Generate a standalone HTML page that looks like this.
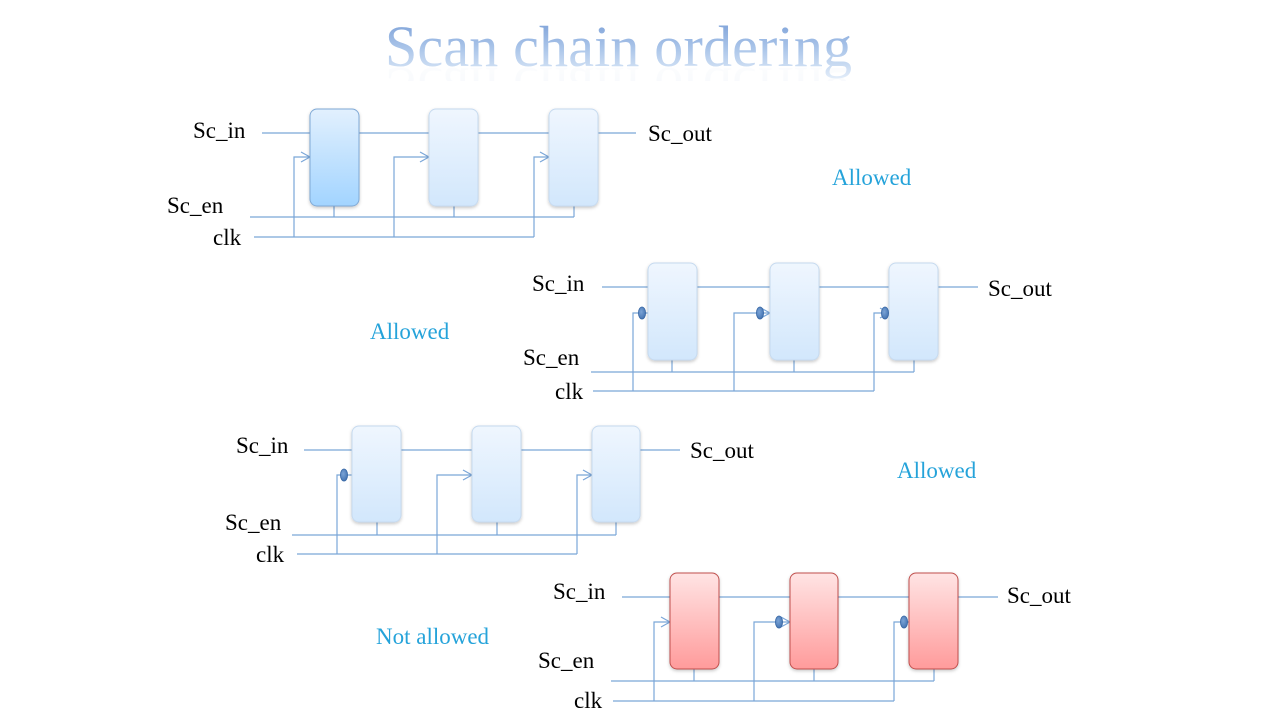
<!DOCTYPE html>
<html>
<head>
<meta charset="utf-8">
<style>
  html,body{margin:0;padding:0;background:#fff;}
  body{width:1280px;height:720px;overflow:hidden;}
  svg{display:block;}
  .lbl{font-family:"Liberation Serif",serif;font-size:23px;fill:#000;}
  .ok{font-family:"Liberation Serif",serif;font-size:23px;fill:#25a3da;}
  .w{stroke:#7aa6d8;stroke-width:1.2;fill:none;}
</style>
</head>
<body>
<svg width="1280" height="720" viewBox="0 0 1280 720" xmlns="http://www.w3.org/2000/svg">
  <defs>
    <linearGradient id="tg" x1="0" y1="0" x2="0" y2="1">
      <stop offset="0" stop-color="#7399d4"/>
      <stop offset="0.55" stop-color="#adc7ea"/>
      <stop offset="1" stop-color="#e3edf9"/>
    </linearGradient>
    <linearGradient id="tr" x1="0" y1="0" x2="0" y2="1">
      <stop offset="0" stop-color="#d5e2f4"/>
      <stop offset="1" stop-color="#ffffff"/>
    </linearGradient>
    <clipPath id="refclip">
      <rect x="370" y="67" width="500" height="14"/>
    </clipPath>
    <linearGradient id="bd" x1="0" y1="0" x2="0" y2="1">
      <stop offset="0" stop-color="#e2f0fe"/>
      <stop offset="1" stop-color="#a2d4ff"/>
    </linearGradient>
    <linearGradient id="bl" x1="0" y1="0" x2="0" y2="1">
      <stop offset="0" stop-color="#eff6fe"/>
      <stop offset="1" stop-color="#d2e7fc"/>
    </linearGradient>
    <linearGradient id="rd" x1="0" y1="0" x2="0" y2="1">
      <stop offset="0" stop-color="#ffe4e4"/>
      <stop offset="1" stop-color="#ff9b9b"/>
    </linearGradient>
    <radialGradient id="bub" cx="0.4" cy="0.4" r="0.7">
      <stop offset="0" stop-color="#7aa3d6"/>
      <stop offset="1" stop-color="#3f6fae"/>
    </radialGradient>
    <filter id="sh" x="-20%" y="-20%" width="140%" height="140%">
      <feDropShadow dx="0" dy="1.5" stdDeviation="1.5" flood-color="#000" flood-opacity="0.22"/>
    </filter>
  </defs>

  <!-- Title -->
  <g clip-path="url(#refclip)" opacity="0.35">
    <g transform="translate(0,134) scale(1,-1)">
      <text x="385" y="66" textLength="467" lengthAdjust="spacing" font-family="Liberation Serif, serif" font-size="58" fill="url(#tr)">Scan chain ordering</text>
    </g>
  </g>
  <text x="385" y="66" textLength="467" lengthAdjust="spacing" font-family="Liberation Serif, serif" font-size="58" fill="url(#tg)">Scan chain ordering</text>

  <!-- ================= Diagram 1 ================= -->
  <g class="w">
    <line x1="262" y1="133" x2="636" y2="133"/>
    <polyline points="294,237 294,157 310,157"/>
    <polyline points="394,237 394,157 429,157"/>
    <polyline points="534,237 534,157 549,157"/>
    <polyline points="301,152 310,157 301,162"/>
    <polyline points="420,152 429,157 420,162"/>
    <polyline points="540,152 549,157 540,162"/>
    <line x1="250" y1="217" x2="574" y2="217"/>
    <line x1="334" y1="206" x2="334" y2="217"/>
    <line x1="454" y1="206" x2="454" y2="217"/>
    <line x1="574" y1="206" x2="574" y2="217"/>
    <line x1="254" y1="237" x2="534" y2="237"/>
  </g>
  <rect x="310" y="109" width="49" height="97" rx="7" fill="url(#bd)" stroke="#7fa9d6" stroke-width="1" filter="url(#sh)"/>
  <rect x="429" y="109" width="49" height="97" rx="7" fill="url(#bl)" stroke="#c6daef" stroke-width="1" filter="url(#sh)"/>
  <rect x="549" y="109" width="49" height="97" rx="7" fill="url(#bl)" stroke="#c6daef" stroke-width="1" filter="url(#sh)"/>
  <text class="lbl" x="193" y="138">Sc_in</text>
  <text class="lbl" x="167" y="213">Sc_en</text>
  <text class="lbl" x="213" y="245">clk</text>
  <text class="lbl" x="648" y="141">Sc_out</text>
  <text class="ok" x="832" y="185">Allowed</text>

  <!-- ================= Diagram 2 ================= -->
  <g class="w">
    <line x1="602" y1="287" x2="978" y2="287"/>
    <polyline points="633,391 633,313 648,313"/>
    <polyline points="734,391 734,313 770,313"/>
    <polyline points="874,391 874,313 889,313"/>
    <polyline points="761,308 770,313 761,318"/>
    <polyline points="880,308 889,313 880,318"/>
    <line x1="591" y1="372" x2="914" y2="372"/>
    <line x1="672" y1="360" x2="672" y2="372"/>
    <line x1="794" y1="360" x2="794" y2="372"/>
    <line x1="914" y1="360" x2="914" y2="372"/>
    <line x1="593" y1="391" x2="874" y2="391"/>
  </g>
  <rect x="648" y="263" width="49" height="97" rx="7" fill="url(#bl)" stroke="#c6daef" stroke-width="1" filter="url(#sh)"/>
  <rect x="770" y="263" width="49" height="97" rx="7" fill="url(#bl)" stroke="#c6daef" stroke-width="1" filter="url(#sh)"/>
  <rect x="889" y="263" width="49" height="97" rx="7" fill="url(#bl)" stroke="#c6daef" stroke-width="1" filter="url(#sh)"/>
  <ellipse cx="642" cy="313" rx="3.6" ry="6" fill="url(#bub)" stroke="#3a69a6" stroke-width="0.8"/>
  <ellipse cx="760" cy="313" rx="3.6" ry="6" fill="url(#bub)" stroke="#3a69a6" stroke-width="0.8"/>
  <ellipse cx="885" cy="313" rx="3.6" ry="6" fill="url(#bub)" stroke="#3a69a6" stroke-width="0.8"/>
  <text class="lbl" x="532" y="291">Sc_in</text>
  <text class="lbl" x="523" y="365">Sc_en</text>
  <text class="lbl" x="555" y="399">clk</text>
  <text class="lbl" x="988" y="296">Sc_out</text>
  <text class="ok" x="370" y="339">Allowed</text>

  <!-- ================= Diagram 3 ================= -->
  <g class="w">
    <line x1="304" y1="450" x2="680" y2="450"/>
    <polyline points="337,554 337,475 352,475"/>
    <polyline points="437,554 437,475 472,475"/>
    <polyline points="577,554 577,475 592,475"/>
    <polyline points="463,470 472,475 463,480"/>
    <polyline points="583,470 592,475 583,480"/>
    <line x1="292" y1="535" x2="616" y2="535"/>
    <line x1="377" y1="522" x2="377" y2="535"/>
    <line x1="497" y1="522" x2="497" y2="535"/>
    <line x1="616" y1="522" x2="616" y2="535"/>
    <line x1="297" y1="554" x2="577" y2="554"/>
  </g>
  <rect x="352" y="426" width="49" height="96" rx="7" fill="url(#bl)" stroke="#c6daef" stroke-width="1" filter="url(#sh)"/>
  <rect x="472" y="426" width="49" height="96" rx="7" fill="url(#bl)" stroke="#c6daef" stroke-width="1" filter="url(#sh)"/>
  <rect x="592" y="426" width="48" height="96" rx="7" fill="url(#bl)" stroke="#c6daef" stroke-width="1" filter="url(#sh)"/>
  <ellipse cx="344" cy="475" rx="3.6" ry="6" fill="url(#bub)" stroke="#3a69a6" stroke-width="0.8"/>
  <text class="lbl" x="236" y="453">Sc_in</text>
  <text class="lbl" x="225" y="530">Sc_en</text>
  <text class="lbl" x="256" y="562">clk</text>
  <text class="lbl" x="690" y="458">Sc_out</text>
  <text class="ok" x="897" y="478">Allowed</text>

  <!-- ================= Diagram 4 ================= -->
  <g class="w">
    <line x1="622" y1="597" x2="998" y2="597"/>
    <polyline points="654,701 654,622 670,622"/>
    <polyline points="754,701 754,622 790,622"/>
    <polyline points="894,701 894,622 909,622"/>
    <polyline points="661,617 670,622 661,627"/>
    <polyline points="781,617 790,622 781,627"/>
    <line x1="611" y1="681" x2="934" y2="681"/>
    <line x1="694" y1="669" x2="694" y2="681"/>
    <line x1="814" y1="669" x2="814" y2="681"/>
    <line x1="934" y1="669" x2="934" y2="681"/>
    <line x1="613" y1="701" x2="894" y2="701"/>
  </g>
  <rect x="670" y="573" width="49" height="96" rx="7" fill="url(#rd)" stroke="#c0504d" stroke-width="1" filter="url(#sh)"/>
  <rect x="790" y="573" width="48" height="96" rx="7" fill="url(#rd)" stroke="#c0504d" stroke-width="1" filter="url(#sh)"/>
  <rect x="909" y="573" width="49" height="96" rx="7" fill="url(#rd)" stroke="#c0504d" stroke-width="1" filter="url(#sh)"/>
  <ellipse cx="779" cy="622" rx="3.6" ry="6" fill="url(#bub)" stroke="#3a69a6" stroke-width="0.8"/>
  <ellipse cx="904" cy="622" rx="3.6" ry="6" fill="url(#bub)" stroke="#3a69a6" stroke-width="0.8"/>
  <text class="lbl" x="553" y="599">Sc_in</text>
  <text class="lbl" x="538" y="668">Sc_en</text>
  <text class="lbl" x="574" y="708">clk</text>
  <text class="lbl" x="1007" y="603">Sc_out</text>
  <text class="ok" x="376" y="644">Not allowed</text>
</svg>
</body>
</html>
